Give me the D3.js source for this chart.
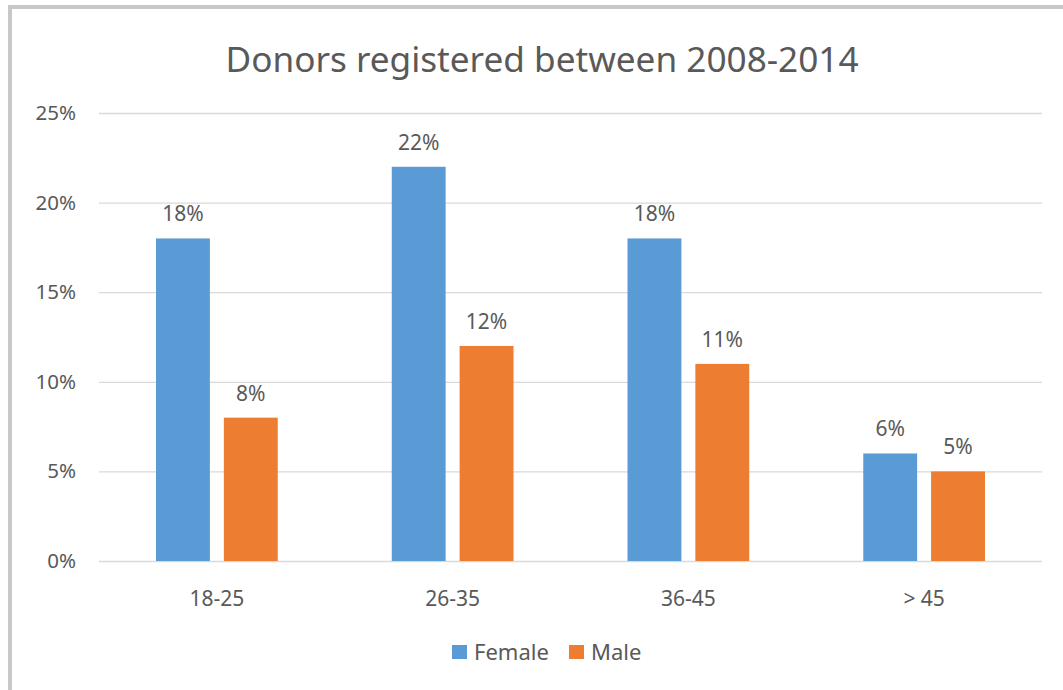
<!DOCTYPE html>
<html><head><meta charset="utf-8">
<script src="https://cdn.jsdelivr.net/npm/d3@7"></script>
<style>body{margin:0;background:#fff}svg{display:block}text{font-family:"Noto Sans",sans-serif;fill:#595959}</style>
</head><body>
<svg id="c" width="1063" height="690"></svg>
<script>
const title = "Donors registered between 2008-2014";
const categories = ["18-25", "26-35", "36-45", "> 45"];
const seriesNames = ["Female", "Male"];
const female = [18, 22, 18, 6];
const male = [8, 12, 11, 5];
const yTicks = [0, 5, 10, 15, 20, 25];
const colors = ["#5B9BD5", "#ED7D31"];

const svg = d3.select("#c");
// frame
svg.append("rect").attr("x", 10).attr("y", 7).attr("width", 1070).attr("height", 700)
  .attr("fill", "#fff").attr("stroke", "#c8c8c8").attr("stroke-width", 4);

const mLeft = 99, mRight = 1042, mTop = 113, mBottom = 561;
const x = d3.scaleBand().domain(categories).range([mLeft, mRight]);
const xs = d3.scaleBand().domain(seriesNames).range([0, x.bandwidth()]).paddingInner(0.206).paddingOuter(0.84);
const y = d3.scaleLinear().domain([0, 25]).range([mBottom, mTop]);

svg.append("text").attr("x", 542).attr("y", 72).attr("text-anchor", "middle")
  .attr("font-size", 35).attr("textLength", 633).attr("lengthAdjust", "spacingAndGlyphs").text(title);

const yAxis = svg.append("g").attr("transform", `translate(${mLeft},0)`)
  .call(d3.axisLeft(y).tickValues(yTicks).tickSize(-(mRight - mLeft)).tickFormat(d => d + "%"));
yAxis.select(".domain").remove();
yAxis.selectAll("line").attr("stroke", "#d9d9d9").attr("stroke-width", 1.3);
yAxis.selectAll("text").attr("x", -23).attr("font-size", 20.5).attr("fill", "#595959");

const xAxis = svg.append("g").attr("transform", `translate(0,${mBottom})`)
  .call(d3.axisBottom(x).tickSize(0));
xAxis.select(".domain").remove();
xAxis.selectAll("text").attr("dy", 0).attr("y", 45).attr("font-size", 21).attr("fill", "#595959");

const data = categories.map((c, i) => ({c, vals: [female[i], male[i]]}));
const g = svg.append("g");
data.forEach(d => {
  d.vals.forEach((v, j) => {
    const bx = x(d.c) + xs(seriesNames[j]);
    g.append("rect").attr("x", bx).attr("y", y(v)).attr("width", xs.bandwidth())
      .attr("height", y(0) - y(v)).attr("fill", colors[j]);
    g.append("text").attr("x", bx + xs.bandwidth() / 2).attr("y", y(v) - 17)
      .attr("text-anchor", "middle").attr("font-size", 21).text(v + "%");
  });
});

const leg = svg.append("g");
const legX = [452, 569];
seriesNames.forEach((s, j) => {
  leg.append("rect").attr("x", legX[j]).attr("y", 645).attr("width", 15).attr("height", 14).attr("fill", colors[j]);
  leg.append("text").attr("x", legX[j] + 22).attr("y", 660).attr("font-size", 22).text(s);
});
</script>
</body></html>
